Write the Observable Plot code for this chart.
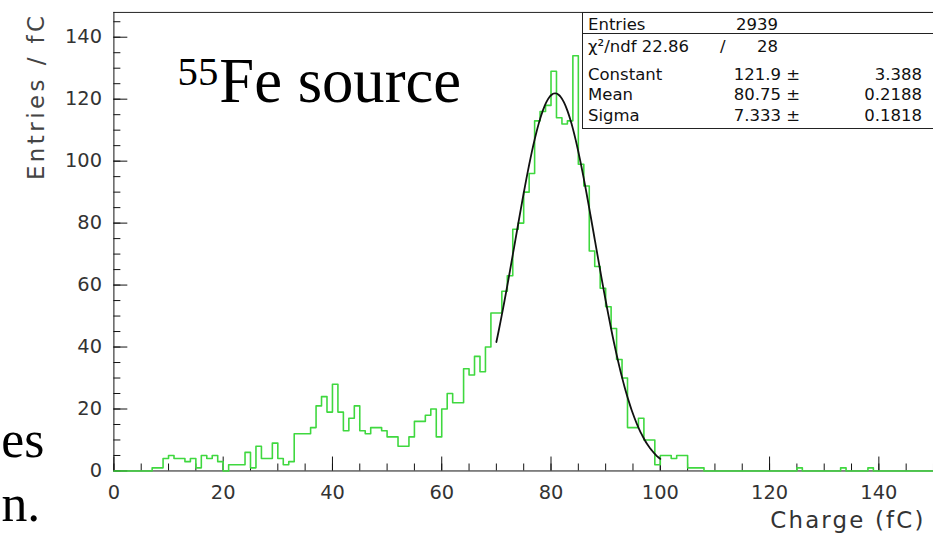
<!DOCTYPE html>
<html>
<head>
<meta charset="utf-8">
<script src="https://cdn.jsdelivr.net/npm/d3@7"></script>
<script src="https://cdn.jsdelivr.net/npm/@observablehq/plot@0.6"></script>
<style>
html, body { margin:0; padding:0; background:#fff; overflow:hidden; }
#wrap { position:relative; width:933px; height:540px; overflow:hidden; }
#chart { position:absolute; left:0; top:0; }
#stats { position:absolute; left:582px; top:12px; width:380px; height:117px; background:#fff;
  border:1px solid #222; box-sizing:border-box; font-family:"DejaVu Sans",sans-serif; font-size:16.5px; color:#111; }
#stats .sep { position:absolute; left:0; right:0; top:20px; border-top:1px solid #222; }
#stats span { position:absolute; white-space:nowrap; line-height:1; }
#stats span.r { transform:translateX(-100%); }
</style>
</head>
<body>
<div id="wrap"><div id="chart"></div><div id="stats"></div></div>
<script>
// ---- data ----
const binLow = 0, binWidth = 1, nBins = 150;           // histogram binning (fC)
const counts = [
  0,0,0,0,0,0,0,1,1,4,            // 0-9
  5,4,4,3,4,1,5,4,5,3,            // 10-19
  0,2,2,2,6,1,8,4,4,9,            // 20-29
  4,2,3,12,12,12,14,21,24,19,     // 30-39
  28,19,13,17,21,13,12,14,14,13,  // 40-49
  11,11,8,8,11,16,16,18,20,11,    // 50-59
  20,25,22,22,33,31,37,32,40,51,  // 60-69
  51,58,63,78,80,90,96,113,116,118, // 70-79
  129,114,112,113,134,99,92,71,66,59, // 80-89
  53,46,36,30,14,14,17,10,10,2,   // 90-99
  5,5,4,5,5,1,1,1,0,0,            // 100-109
  0,0,0,0,0,0,0,0,0,0,            // 110-119
  0,0,0,0,0,1,0,0,0,0,            // 120-129
  0,0,0,1,0,0,0,0,1,0,            // 130-139
  0,0,0,0,0,0,0,0,0,0             // 140-149
];
// Gaussian fit (from stats box)
const fitConstant = 121.9, fitMean = 80.75, fitSigma = 7.333;
const fitRange = [70, 100];
const statsRows = [
  {label: "Entries", value: "2939", err: ""},
  {label: "Constant", value: "121.9 \u00b1", err: "3.388"},
  {label: "Mean", value: "80.75 \u00b1", err: "0.2188"},
  {label: "Sigma", value: "7.333 \u00b1", err: "0.1818"}
];
const chi2 = "22.86", ndf = "28";
const xMajorTicks = [0, 20, 40, 60, 80, 100, 120, 140];
const xMinorTicks = d3.range(0, 151, 5);
const yMajorTicks = [0, 20, 40, 60, 80, 100, 120, 140];
const yMinorTicks = d3.range(0, 146, 5);
const xMax = 150, yMax = 148;
const xTitle = "Charge (fC)", yTitle = "Entries / fC";

// ---- build ----
const hist = counts.map((c, i) => ({x: binLow + i * binWidth, y: c}));
hist.push({x: binLow + nBins * binWidth, y: counts[nBins - 1]});
const fit = d3.range(fitRange[0], fitRange[1] + 0.001, 0.25).map(x => ({
  x, y: fitConstant * Math.exp(-0.5 * ((x - fitMean) / fitSigma) ** 2)
}));
const green = "#3fd83f";
const blank = () => "";

const chart = Plot.plot({
  width: 938, height: 540,
  marginLeft: 114, marginRight: 0, marginTop: 12, marginBottom: 67,
  style: {fontFamily: "DejaVu Sans, sans-serif", background: "transparent"},
  x: {domain: [0, xMax], label: null},
  y: {domain: [0, yMax], label: null},
  marks: [
    Plot.ruleY([yMax], {stroke: "#222"}),
    Plot.ruleX([0], {stroke: "#111"}),
    Plot.ruleY([0], {stroke: "#111"}),
    Plot.axisX({ticks: xMinorTicks, tickSize: 7, dy: -7, tickFormat: blank, label: null, stroke: "#111"}),
    Plot.axisX({ticks: xMajorTicks, tickSize: 14, dy: -14, tickFormat: blank, label: null, stroke: "#111"}),
    Plot.axisX({ticks: xMajorTicks, tickSize: 0, tickPadding: 14, fontSize: 19.5, fill: "#333", label: null}),
    Plot.axisY({ticks: yMinorTicks, tickSize: 7, dx: 7, tickFormat: blank, label: null, stroke: "#111"}),
    Plot.axisY({ticks: yMajorTicks, tickSize: 14, dx: 14, tickFormat: blank, label: null, stroke: "#111"}),
    Plot.axisY({ticks: yMajorTicks, tickSize: 0, tickPadding: 12, fontSize: 19.5, fill: "#333", label: null}),
    Plot.line(hist, {x: "x", y: "y", curve: "step-after", stroke: green, strokeWidth: 1.6}),
    Plot.line(fit, {x: "x", y: "y", curve: "natural", stroke: "#111", strokeWidth: 1.8}),
    Plot.text([yTitle], {frameAnchor: "top-left", dx: -70, dy: 0, rotate: -90, textAnchor: "end",
      lineAnchor: "bottom", fontSize: 23, fill: "#444"}),
    Plot.text([xTitle], {frameAnchor: "bottom-right", dx: -8, dy: 57, textAnchor: "end",
      lineAnchor: "bottom", fontSize: 23, fill: "#333"}),
    Plot.text(["55"], {frameAnchor: "top-left", dx: 64, dy: 73, textAnchor: "start", lineAnchor: "bottom",
      fontSize: 41, fontFamily: "Liberation Serif, serif", fill: "#000"}),
    Plot.text(["Fe source"], {frameAnchor: "top-left", dx: 106, dy: 90, textAnchor: "start", lineAnchor: "bottom",
      fontSize: 63, fontFamily: "Liberation Serif, serif", fill: "#000"}),
    Plot.text(["es"], {frameAnchor: "top-left", dx: -70, dy: 447, textAnchor: "end", lineAnchor: "bottom",
      fontSize: 52, fontFamily: "Liberation Serif, serif", fill: "#000"}),
    Plot.text(["n."], {frameAnchor: "top-left", dx: -74, dy: 511, textAnchor: "end", lineAnchor: "bottom",
      fontSize: 52, fontFamily: "Liberation Serif, serif", fill: "#000"})
  ]
});
document.getElementById("chart").appendChild(chart);
// wider letter spacing of the axis titles, as in the reference
d3.select(chart).selectAll("text").each(function() {
  const t = this.textContent;
  if (t === yTitle) this.style.letterSpacing = "3.5px";
  if (t === xTitle) this.style.letterSpacing = "2.2px";
});

// stats box
const box = document.getElementById("stats");
const ox = 583, oy = 13, fs = 8;   // content origin, half font
function put(text, xAbs, yCenter, right) {
  const s = document.createElement("span");
  s.innerHTML = text;
  if (right) s.className = "r";
  s.style.left = (xAbs - ox) + "px";
  s.style.top = (yCenter - oy - fs) + "px";
  box.appendChild(s);
}
const sep = document.createElement("div"); sep.className = "sep"; box.appendChild(sep);
const rowY = [25, 75, 95, 116];
statsRows.forEach((r, i) => {
  put(r.label, 588, rowY[i], false);
  if (i === 0) put(r.value, 778, rowY[i], true);
  else put(r.value, 800, rowY[i], true);
  if (r.err) put(r.err, 922, rowY[i], true);
});
put("\u03c7\u00b2/ndf " + chi2, 588, 47, false);
put("/", 720, 47, false);
put(ndf, 778, 47, true);
</script>
</body>
</html>
